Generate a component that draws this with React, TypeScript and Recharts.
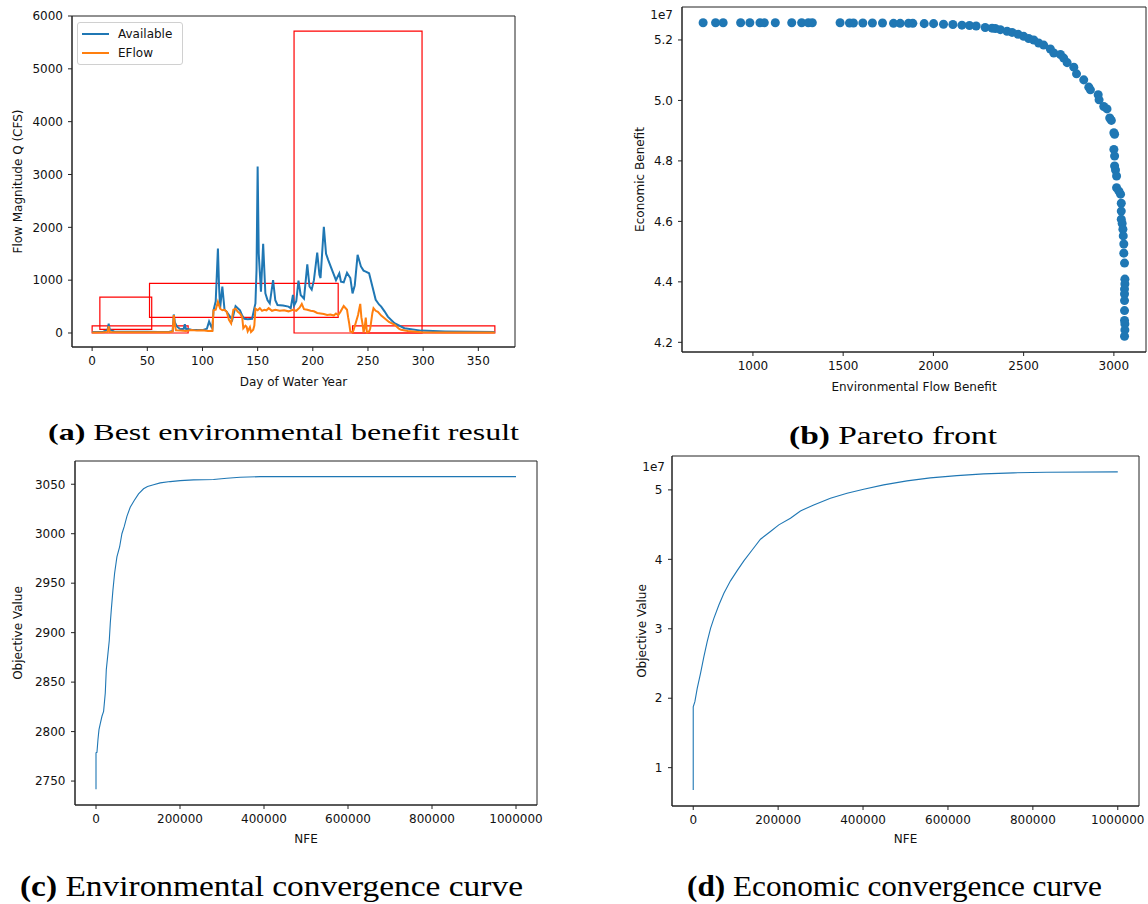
import {
  LineChart,
  Line,
  ScatterChart,
  Scatter,
  XAxis,
  YAxis,
  ZAxis,
  ReferenceArea,
  Legend,
  Label,
} from 'recharts';

const FONT = 'DejaVu Sans';
const SERIF = "'Liberation Serif', 'Times New Roman', serif";
const BLUE = '#1f77b4';
const ORANGE = '#ff7f0e';
const FRAME = '#222';
const INK = '#111';

// (a) best environmental benefit result - daily flows
const availableDays = [0, 5, 10, 14, 15, 16, 20, 30, 40, 50, 60, 70, 73, 74, 75, 77, 80, 83, 84, 85, 90, 95, 100, 104, 106, 108, 109, 110, 112, 114, 115, 116, 118, 120, 122, 124, 127, 130, 132, 134, 136, 138, 141, 145, 147, 148, 149, 150, 151, 153, 155, 157, 159, 161, 164, 166, 168, 173, 178, 180, 182, 183, 185, 187, 189, 192, 195, 197, 199, 201, 204, 206, 207, 210, 212, 214, 218, 221, 224, 225.5, 228, 231, 234, 236, 238, 240.6, 243.6, 246, 248, 251, 254, 257, 260, 262, 265, 268, 274, 283, 298, 320, 365];
const availableFlow = [20, 20, 25, 60, 175, 60, 30, 25, 22, 22, 20, 25, 40, 350, 200, 120, 70, 80, 165, 80, 60, 55, 55, 80, 220, 120, 90, 430, 600, 1600, 900, 470, 880, 440, 400, 340, 250, 510, 470, 430, 330, 270, 260, 270, 470, 560, 1200, 3150, 1500, 780, 1690, 750, 620, 560, 1000, 620, 530, 520, 500, 470, 720, 520, 600, 990, 720, 650, 1300, 880, 820, 1000, 1520, 1100, 1040, 2010, 1500, 1380, 1160, 1000, 1130, 970, 960, 1140, 1040, 750, 900, 1480, 1260, 1180, 1160, 1130, 880, 630, 540, 500, 410, 310, 185, 90, 45, 30, 20];

const eflowDays = [0, 10, 14, 15, 16, 30, 50, 70, 73, 74, 75, 76, 80, 85, 90, 95, 100, 105, 109, 110, 112, 114, 116, 118, 120, 122, 124, 126, 128, 130, 132, 134, 136, 137, 139, 140, 141, 143, 144, 146, 147, 148, 150, 152, 154, 156, 158, 160, 163, 166, 170, 174, 178, 182, 185, 188, 190, 192, 195, 198, 201, 204, 207, 210, 213, 216, 219, 221, 223, 225, 228, 231, 232, 233, 234, 236, 237, 239, 241, 243, 244, 245, 246, 247, 248, 249, 251, 252, 254, 255, 257, 259, 262, 265, 269, 274, 278, 280, 286, 298, 320, 365];
const eflowFlow = [10, 12, 20, 130, 20, 12, 12, 15, 30, 340, 150, 50, 45, 40, 55, 45, 50, 40, 40, 430, 440, 590, 460, 430, 440, 400, 250, 180, 440, 460, 400, 370, 300, 90, 140, 120, 30, 110, 20, 60, 140, 460, 430, 470, 420, 440, 430, 470, 420, 440, 420, 430, 410, 440, 420, 480, 550, 450, 440, 420, 410, 380, 370, 360, 340, 350, 330, 370, 340, 400, 510, 440, 300, 180, 30, 10, 60, 200, 340, 550, 300, 180, 10, 100, 290, 10, 30, 80, 380, 470, 420, 400, 330, 280, 210, 160, 80, 60, 40, 15, 10, 8];

const dayTicks = [0, 50, 100, 150, 200, 250, 300, 350];
const flowTicks = [0, 1000, 2000, 3000, 4000, 5000, 6000];

// red boxes over the hydrograph
const boxDayStart = [0, 7, 52, 183, 236];
const boxDayEnd = [87, 54, 223, 299, 365];
const boxFlowLow = [0, 70, 297, 0, 0];
const boxFlowHigh = [135, 680, 940, 5714, 135];

// (b) pareto front
const paretoEnv = [724, 793, 835, 932, 983, 1039, 1063, 1124, 1215, 1270, 1307, 1329, 1483, 1535, 1557, 1609, 1662, 1718, 1779, 1816, 1862, 1886, 1949, 2001, 2056, 2108, 2158, 2200, 2237, 2287, 2325, 2343, 2371, 2408, 2436, 2469, 2500, 2528, 2556, 2583, 2611, 2648, 2667, 2704, 2722, 2741, 2778, 2793, 2833, 2861, 2870, 2913, 2918, 2944, 2962, 2977, 2986, 3000, 3004, 3000, 3004, 3004, 3009, 3015, 3015, 3028, 3037, 3041, 3041, 3041, 3046, 3050, 3052, 3055, 3055, 3059, 3061, 3061, 3059, 3059, 3059, 3059, 3059, 3061, 3061, 3059];
const paretoEcon = [5.257e7, 5.257e7, 5.257e7, 5.257e7, 5.257e7, 5.257e7, 5.257e7, 5.257e7, 5.257e7, 5.257e7, 5.257e7, 5.257e7, 5.257e7, 5.256e7, 5.256e7, 5.256e7, 5.256e7, 5.256e7, 5.255e7, 5.255e7, 5.255e7, 5.255e7, 5.254e7, 5.254e7, 5.252e7, 5.251e7, 5.249e7, 5.248e7, 5.246e7, 5.241e7, 5.239e7, 5.238e7, 5.234e7, 5.229e7, 5.225e7, 5.219e7, 5.212e7, 5.205e7, 5.2e7, 5.19e7, 5.183e7, 5.17e7, 5.157e7, 5.152e7, 5.14e7, 5.125e7, 5.11e7, 5.088e7, 5.068e7, 5.044e7, 5.035e7, 5.019e7, 5.002e7, 4.98e7, 4.972e7, 4.942e7, 4.934e7, 4.893e7, 4.888e7, 4.838e7, 4.816e7, 4.783e7, 4.77e7, 4.75e7, 4.711e7, 4.7e7, 4.69e7, 4.66e7, 4.634e7, 4.607e7, 4.593e7, 4.574e7, 4.552e7, 4.525e7, 4.495e7, 4.462e7, 4.409e7, 4.393e7, 4.376e7, 4.36e7, 4.338e7, 4.305e7, 4.272e7, 4.261e7, 4.241e7, 4.22e7];
const envBenefitTicks = [1000, 1500, 2000, 2500, 3000];
const econBenefitTicks = [4.2e7, 4.4e7, 4.6e7, 4.8e7, 5.0e7, 5.2e7];

// (c) environmental convergence
const envNfe = [0, 0, 2300, 4700, 7100, 10200, 14200, 18100, 22100, 24500, 27700, 31600, 34000, 36400, 40300, 44300, 49800, 56200, 61700, 67300, 73600, 81500, 91000, 101300, 113200, 122700, 137000, 152900, 176700, 200500, 232200, 279700, 311400, 343100, 390600, 1000000];
const envObjective = [2741.6, 2778.6, 2779, 2792, 2802, 2808, 2815.5, 2820.5, 2839, 2862.5, 2875.8, 2892, 2909.5, 2923, 2943, 2960, 2976.5, 2986.6, 3000, 3007.4, 3017.5, 3026.8, 3033.6, 3040.3, 3045.4, 3047.7, 3049.4, 3051.4, 3052.7, 3053.7, 3054.4, 3054.8, 3056, 3057, 3057.7, 3057.7];
const envObjTicks = [2750, 2800, 2850, 2900, 2950, 3000, 3050];

// (d) economic convergence
const econNfe = [0, 0, 3900, 9400, 17300, 25100, 32900, 40800, 48600, 60400, 72200, 87800, 103500, 119200, 138800, 158400, 181900, 201600, 229000, 252500, 283800, 323100, 362300, 401500, 448500, 503500, 558400, 621200, 683900, 754400, 832900, 1000000];
const econObjective = [0.677e7, 1.877e7, 1.95e7, 2.143e7, 2.36e7, 2.6e7, 2.815e7, 3.007e7, 3.15e7, 3.343e7, 3.51e7, 3.69e7, 3.837e7, 3.977e7, 4.135e7, 4.29e7, 4.4e7, 4.496e7, 4.592e7, 4.697e7, 4.784e7, 4.88e7, 4.952e7, 5.01e7, 5.072e7, 5.13e7, 5.173e7, 5.206e7, 5.23e7, 5.245e7, 5.255e7, 5.259e7];
const econObjTicks = [1e7, 2e7, 3e7, 4e7, 5e7];

const nfeTicks = [0, 200000, 400000, 600000, 800000, 1000000];

// axis limits (matplotlib-style 5% padding)
const dayDomain = [-18.25, 383.25];
const flowDomain = [-265, 6000];
const envBenefitDomain = [607, 3178];
const econBenefitDomain = [4.168e7, 5.309e7];
const nfeDomain = [-50000, 1050000];
const envObjDomain = [2725.8, 3073.5];
const econObjDomain = [0.448e7, 5.488e7];

const availableData = availableDays.map((day, i) => ({ day, flow: availableFlow[i] }));
const eflowData = eflowDays.map((day, i) => ({ day, flow: eflowFlow[i] }));
const paretoData = paretoEnv.map((env, i) => ({ env, econ: paretoEcon[i] }));
const envConvData = envNfe.map((nfe, i) => ({ nfe, value: envObjective[i] }));
const econConvData = econNfe.map((nfe, i) => ({ nfe, value: econObjective[i] }));

const tickStyle = { fill: INK, fontSize: 12, fontFamily: FONT };
const labelStyle = { fill: INK, fontSize: 12, fontFamily: FONT };

const offsetText = (fromRight: number, down: number) => (props: any) => {
  const vb = props.viewBox;
  if (!vb) return null;
  return (
    <text x={vb.x + vb.width - fromRight} y={vb.y + down} textAnchor="end" fill={INK} fontSize={12} fontFamily={FONT}>
      1e7
    </text>
  );
};

// full box around the plot area, like matplotlib spines
const frame = (xd: number[], yd: number[]) => (
  <ReferenceArea x1={xd[0]} x2={xd[1]} y1={yd[0]} y2={yd[1]} fill="none" stroke={FRAME} strokeWidth={1} ifOverflow="visible" />
);

const FlowLegend = () => (
  <div
    style={{
      border: '1px solid #d0d0d0',
      borderRadius: 3,
      background: 'rgba(255,255,255,0.8)',
      padding: '2px 10px 2px 4px',
      fontFamily: FONT,
      fontSize: 12,
      color: INK,
      lineHeight: '18.5px',
    }}
  >
    {[
      { name: 'Available', color: BLUE },
      { name: 'EFlow', color: ORANGE },
    ].map((s) => (
      <div key={s.name} style={{ display: 'flex', alignItems: 'center' }}>
        <span style={{ display: 'inline-block', width: 27, borderTop: `2px solid ${s.color}`, marginRight: 9 }} />
        {s.name}
      </div>
    ))}
  </div>
);

export default function App() {
  return (
    <div style={{ position: 'absolute', left: 0, top: 0, width: 1148, height: 904, background: '#fff', fontFamily: FONT }}>
      {/* (a) */}
      <div style={{ position: 'absolute', left: 0, top: 0 }}>
        <LineChart width={530} height={400} margin={{ top: 16, right: 15, bottom: 0, left: 0 }}>
          <XAxis dataKey="day" type="number" domain={dayDomain} ticks={dayTicks} allowDataOverflow height={53} tickSize={4} tickMargin={5} tick={tickStyle} axisLine={{ stroke: FRAME }} tickLine={{ stroke: FRAME }}>
            <Label value="Day of Water Year" position="insideBottom" offset={14} {...labelStyle} />
          </XAxis>
          <YAxis type="number" domain={flowDomain} ticks={flowTicks} allowDataOverflow width={72} tickSize={4} tickMargin={5} tick={tickStyle} axisLine={{ stroke: FRAME }} tickLine={{ stroke: FRAME }}>
            <Label value="Flow Magnitude Q (CFS)" angle={-90} position="insideLeft" offset={18} style={{ textAnchor: 'middle' }} {...labelStyle} />
          </YAxis>
          <Line data={availableData} dataKey="flow" name="Available" type="linear" stroke={BLUE} strokeWidth={2} dot={false} isAnimationActive={false} />
          <Line data={eflowData} dataKey="flow" name="EFlow" type="linear" stroke={ORANGE} strokeWidth={2} dot={false} isAnimationActive={false} />
          {boxDayStart.map((x1, i) => (
            <ReferenceArea key={i} x1={x1} x2={boxDayEnd[i]} y1={boxFlowLow[i]} y2={boxFlowHigh[i]} fill="none" stroke="#ff0000" strokeWidth={1.2} />
          ))}
          {frame(dayDomain, flowDomain)}
          <Legend content={<FlowLegend />} layout="vertical" align="center" verticalAlign="middle" wrapperStyle={{ left: 77, top: 22, width: 'auto' }} />
        </LineChart>
      </div>

      {/* (b) */}
      <div style={{ position: 'absolute', left: 600, top: 0 }}>
        <ScatterChart width={548} height={400} margin={{ top: 7, right: 2, bottom: 0, left: 0 }}>
          <XAxis dataKey="env" type="number" domain={envBenefitDomain} ticks={envBenefitTicks} allowDataOverflow height={48} tickSize={4} tickMargin={5} tick={tickStyle} axisLine={{ stroke: FRAME }} tickLine={{ stroke: FRAME }}>
            <Label value="Environmental Flow Benefit" position="insideBottom" offset={9.5} {...labelStyle} />
          </XAxis>
          <YAxis dataKey="econ" type="number" domain={econBenefitDomain} ticks={econBenefitTicks} allowDataOverflow width={82} tickSize={4} tickMargin={5} tick={tickStyle} axisLine={{ stroke: FRAME }} tickLine={{ stroke: FRAME }} tickFormatter={(v: number) => (v / 1e7).toFixed(1)}>
            <Label value="Economic Benefit" angle={-90} position="insideLeft" offset={40} style={{ textAnchor: 'middle' }} {...labelStyle} />
            <Label value="1e7" content={offsetText(9, 11.5)} />
          </YAxis>
          <ZAxis range={[58, 58]} />
          <Scatter data={paretoData} fill={BLUE} isAnimationActive={false} />
          {frame(envBenefitDomain, econBenefitDomain)}
        </ScatterChart>
      </div>

      {/* (c) */}
      <div style={{ position: 'absolute', left: 0, top: 440 }}>
        <LineChart data={envConvData} width={560} height={410} margin={{ top: 21, right: 23, bottom: 0, left: 0 }}>
          <XAxis dataKey="nfe" type="number" domain={nfeDomain} ticks={nfeTicks} allowDataOverflow height={45} tickSize={4} tickMargin={5} tick={tickStyle} axisLine={{ stroke: FRAME }} tickLine={{ stroke: FRAME }}>
            <Label value="NFE" position="insideBottom" offset={7} {...labelStyle} />
          </XAxis>
          <YAxis type="number" domain={envObjDomain} ticks={envObjTicks} allowDataOverflow width={75} tickSize={4} tickMargin={5.5} tick={tickStyle} axisLine={{ stroke: FRAME }} tickLine={{ stroke: FRAME }}>
            <Label value="Objective Value" angle={-90} position="insideLeft" offset={18} style={{ textAnchor: 'middle' }} {...labelStyle} />
          </YAxis>
          <Line dataKey="value" type="linear" stroke={BLUE} strokeWidth={1.1} dot={false} isAnimationActive={false} />
          {frame(nfeDomain, envObjDomain)}
        </LineChart>
      </div>

      {/* (d) */}
      <div style={{ position: 'absolute', left: 600, top: 440 }}>
        <LineChart data={econConvData} width={548} height={410} margin={{ top: 16, right: 9, bottom: 0, left: 0 }}>
          <XAxis dataKey="nfe" type="number" domain={nfeDomain} ticks={nfeTicks} allowDataOverflow height={44} tickSize={4} tickMargin={5} tick={tickStyle} axisLine={{ stroke: FRAME }} tickLine={{ stroke: FRAME }}>
            <Label value="NFE" position="insideBottom" offset={7} {...labelStyle} />
          </XAxis>
          <YAxis type="number" domain={econObjDomain} ticks={econObjTicks} allowDataOverflow width={72} tickSize={4} tickMargin={5.5} tick={tickStyle} axisLine={{ stroke: FRAME }} tickLine={{ stroke: FRAME }} tickFormatter={(v: number) => String(Math.round(v / 1e7))}>
            <Label value="Objective Value" angle={-90} position="insideLeft" offset={42} style={{ textAnchor: 'middle' }} {...labelStyle} />
            <Label value="1e7" content={offsetText(7, 14.5)} />
          </YAxis>
          <Line dataKey="value" type="linear" stroke={BLUE} strokeWidth={1.1} dot={false} isAnimationActive={false} />
          {frame(nfeDomain, econObjDomain)}
        </LineChart>
      </div>

      {/* sub-figure captions */}
      <svg width={1148} height={904} style={{ position: 'absolute', left: 0, top: 0, pointerEvents: 'none' }}>
        <text x={48} y={440} style={{ fontFamily: SERIF }} fontSize={23} fill="#000" textLength={471} lengthAdjust="spacingAndGlyphs">
          <tspan fontWeight="bold">(a)</tspan> Best environmental benefit result
        </text>
        <text x={789} y={443.5} style={{ fontFamily: SERIF }} fontSize={26} fill="#000" textLength={208} lengthAdjust="spacingAndGlyphs">
          <tspan fontWeight="bold">(b)</tspan> Pareto front
        </text>
        <text x={20} y={896} style={{ fontFamily: SERIF }} fontSize={30} fill="#000" textLength={503} lengthAdjust="spacingAndGlyphs">
          <tspan fontWeight="bold">(c)</tspan> Environmental convergence curve
        </text>
        <text x={687} y={896} style={{ fontFamily: SERIF }} fontSize={30} fill="#000" textLength={415} lengthAdjust="spacingAndGlyphs">
          <tspan fontWeight="bold">(d)</tspan> Economic convergence curve
        </text>
      </svg>
    </div>
  );
}
